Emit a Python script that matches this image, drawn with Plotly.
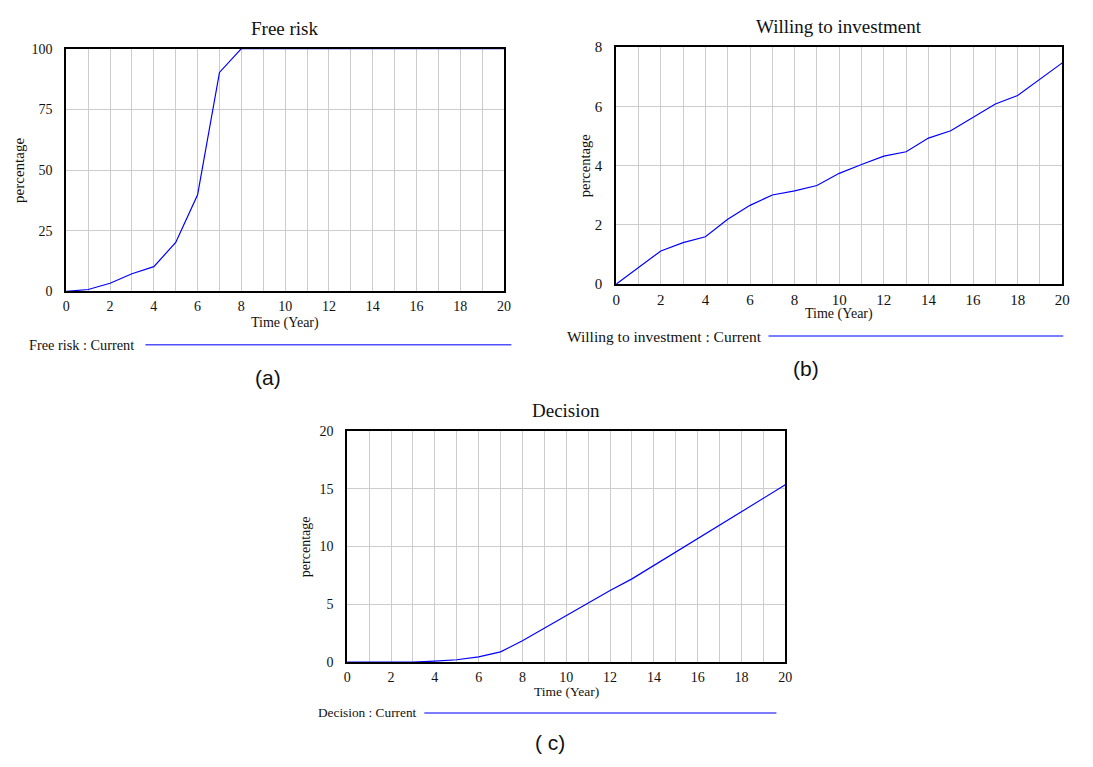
import plotly.graph_objects as go

years = list(range(0, 21))
free_risk = [0, 0.8, 3.4, 7.3, 10.2, 20.2, 39.8, 90.2, 100, 100, 100, 100, 100, 100, 100, 100, 100, 100, 100, 100, 100]
willing = [0, 0.57, 1.12, 1.40, 1.60, 2.19, 2.66, 3.01, 3.15, 3.33, 3.74, 4.04, 4.32, 4.47, 4.93, 5.18, 5.63, 6.08, 6.37, 6.93, 7.47]
decision = [0, 0, 0, 0, 0.08, 0.2, 0.45, 0.88, 1.84, 2.94, 3.98, 5.1, 6.2, 7.2, 8.36, 9.5, 10.7, 11.86, 12.99, 14.18, 15.34]

titles = ["Free risk", "Willing to investment", "Decision"]
legend_names = ["Free risk : Current", "Willing to investment : Current", "Decision : Current"]
sub_labels = ["(a)", "(b)", "( c)"]
y_ticks = [[0, 25, 50, 75, 100], [0, 2, 4, 6, 8], [0, 5, 10, 15, 20]]
y_ranges = [[0, 100], [0, 8], [0, 20]]
x_ticks = list(range(0, 21, 2))

W, H = 1093, 767
SERIF = "Liberation Serif"

def px(x):
    return x / W

def py(y):
    return 1 - y / H

# plot areas in pixels: left, right, top, bottom
boxes = [(63, 505.5, 41.5, 289.5), (619, 1070, 40, 282), (347, 790, 432, 668)]

fig = go.Figure()
series = [free_risk, willing, decision]
annotations = []
shapes = []
leg = [(23, 143, 513, 344), (567, 773, 1071, 335), (315, 425, 781, 720)]
subpos = [(267, 377), (811, 368), (552, 750)]
xtitle_y = [322, 313, 698.5]
ylab_x = [15, 587, 305]
# per-panel font sizes: tick, axis title, y title, legend
fs_tick = [14, 15, 14]
fs_xt = [14, 14, 13.5]
fs_yt = [15, 14.5, 14]
fs_leg = [14.3, 15.5, 13.3]

for i in range(3):
    l, r, t, b = boxes[i]
    xa = "x" if i == 0 else f"x{i+1}"
    ya = "y" if i == 0 else f"y{i+1}"
    fig.add_trace(go.Scatter(x=years, y=series[i], mode="lines",
                             line=dict(color="#0000ff", width=1.2),
                             xaxis=xa, yaxis=ya, showlegend=False, hoverinfo="skip"))
    axkey = "xaxis" if i == 0 else f"xaxis{i+1}"
    aykey = "yaxis" if i == 0 else f"yaxis{i+1}"
    fig.layout[axkey] = dict(
        domain=[px(l), px(r)], anchor=ya, range=[0, 20],
        tickvals=x_ticks, showgrid=True, gridcolor="#cccccc", gridwidth=1,
        minor=dict(dtick=1, showgrid=True, gridcolor="#cccccc", gridwidth=1),
        showline=True, mirror=True, linecolor="black", linewidth=2,
        ticks="", zeroline=False, ticklabelstandoff=1,
        tickfont=dict(family=SERIF, size=fs_tick[i], color="#111111"), fixedrange=True)
    fig.layout[aykey] = dict(
        domain=[py(b), py(t)], anchor=xa, range=y_ranges[i],
        tickvals=y_ticks[i], showgrid=True, gridcolor="#cccccc", gridwidth=1,
        showline=True, mirror=True, linecolor="black", linewidth=2,
        ticks="", zeroline=False, ticklabelstandoff=9,
        tickfont=dict(family=SERIF, size=fs_tick[i], color="#111111"), fixedrange=True)
    annotations.append(dict(text=titles[i], x=px((l + r) / 2), y=py(t - 21), xref="paper", yref="paper",
                            showarrow=False, font=dict(family=SERIF, size=19, color="#111111"),
                            xanchor="center", yanchor="middle"))
    annotations.append(dict(text="Time (Year)", x=px((l + r) / 2), y=py(xtitle_y[i]), xref="paper", yref="paper",
                            showarrow=False, font=dict(family=SERIF, size=fs_xt[i], color="#111111"),
                            xanchor="center", yanchor="middle"))
    annotations.append(dict(text="percentage", x=px(ylab_x[i]), y=py((t + b) / 2), xref="paper", yref="paper",
                            showarrow=False, textangle=-90, font=dict(family=SERIF, size=fs_yt[i], color="#111111"),
                            xanchor="center", yanchor="middle"))
    tx, lx0, lx1, ly = leg[i]
    annotations.append(dict(text=legend_names[i], x=px(tx), y=py(ly), xref="paper", yref="paper",
                            showarrow=False, font=dict(family=SERIF, size=fs_leg[i], color="#111111"),
                            xanchor="left", yanchor="middle"))
    shapes.append(dict(type="line", xref="paper", yref="paper", x0=px(lx0), x1=px(lx1), y0=py(ly), y1=py(ly),
                       line=dict(color="#5050ff", width=1.5)))
    sx, sy = subpos[i]
    annotations.append(dict(text=sub_labels[i], x=px(sx), y=py(sy), xref="paper", yref="paper",
                            showarrow=False, font=dict(family="Liberation Sans", size=21, color="#111111"),
                            xanchor="center", yanchor="middle"))

fig.update_layout(width=W, height=H, margin=dict(l=0, r=0, t=0, b=0),
                  paper_bgcolor="white", plot_bgcolor="white",
                  annotations=annotations, shapes=shapes, showlegend=False)

fig.write_html("out.html", config={"displayModeBar": False},
               post_script="document.body.style.margin='0';")
